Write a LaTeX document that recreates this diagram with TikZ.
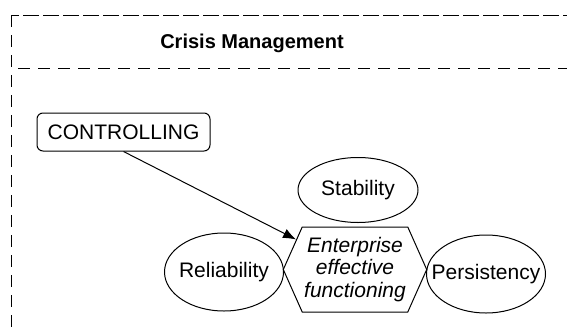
\documentclass[tikz,border=0pt]{standalone}
\usepackage{fontspec}
\setmainfont{Liberation Sans}
\usetikzlibrary{shapes.geometric,shapes.symbols,arrows.meta}

\begin{document}
\begin{tikzpicture}[x=1pt,y=-1pt,line width=1pt,
        txt/.style={font=\fontsize{21}{22.5}\selectfont},
        frame/.style={dash pattern=on 12pt off 8pt},
        oval/.style={ellipse,draw,inner sep=0pt,txt,minimum width=119pt,minimum height=78pt},
        hexa/.style={signal,signal to=west and east,signal pointer angle=132,draw,
                     txt,align=center,inner xsep=2pt,inner ysep=0pt,minimum height=85pt}]
        \useasboundingbox (0,0) rectangle (567,332);
        \clip (0,0) rectangle (567,332);
        % dashed frame
        \draw[frame] (11,15) rectangle (620,68); % header
        \draw[frame] (11,15) rectangle (620,420);
        \node[font=\fontsize{20}{24}\selectfont\bfseries] (title) at (252,43) {Crisis Management};
        % nodes
        \node[draw,rounded corners=6pt,txt,minimum width=173pt,minimum height=38pt,inner sep=0pt] (ctrl) at (123.5,132) {CONTROLLING};
        \node[oval,minimum width=120pt,minimum height=65pt] (stab) at (358,190) {\makebox[0pt]{Stability}};
        \node[oval] (rel) at (224,272) {\makebox[0pt]{Reliability}};
        \node[oval] (pers) at (486,274) {\makebox[0pt]{Persistency}};
        \node[hexa] (eef) at (355,269.5) {\itshape Enterprise\\\itshape effective\\\itshape functioning};
        % arrow
        \draw[-{Latex[length=13pt,width=10pt]}] (ctrl.south) -- (eef);
\end{tikzpicture}
\end{document}
